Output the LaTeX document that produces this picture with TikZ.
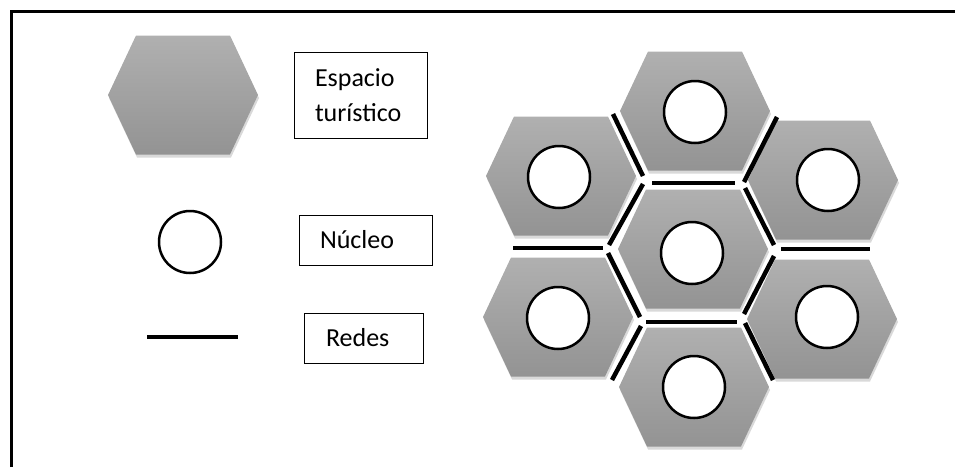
\documentclass[tikz,border=0pt]{standalone}
\usepackage{fontspec}
\setmainfont{Carlito}
\usetikzlibrary{shadows}

\definecolor{hextop}{HTML}{B0B0B0}
\definecolor{hexbot}{HTML}{939393}

\tikzset{
  espacio/.style={top color=hextop, bottom color=hexbot,
    drop shadow={opacity=0.3, shadow xshift=1pt, shadow yshift=-3pt}},
  nucleo/.style={circle, draw=black, fill=white, line width=2.5pt, minimum size=62pt, inner sep=0pt},
  red/.style={draw=black, line width=4.5pt},
  leyenda/.style={draw=black, line width=1pt, align=left, inner ysep=0pt,
    font=\fontsize{26}{35}\selectfont}
}

\begin{document}
\begin{tikzpicture}[x=1pt,y=-1pt]
                \useasboundingbox (0,0) rectangle (955,467);
                % marco
                \draw[line width=3pt] (11,467) -- (11,11) -- (955,11);

                % espacios turisticos
                \foreach \cx/\cy in {183/95, 695/111, 561/176, 823/180, 693/249, 558/317, 822/319, 694/387}
                  \shade[espacio] (\cx-47,\cy-59.5) -- (\cx+47,\cy-59.5) -- (\cx+75,\cy) -- (\cx+47,\cy+59.5) -- (\cx-47,\cy+59.5) -- (\cx-75,\cy) -- cycle;

                % nucleos
                \node [nucleo] (NL) at (190,242) {};
                \node [nucleo] (NA) at (695,112) {};
                \node [nucleo] (NAI) at (559,177) {};
                \node [nucleo] (NAD) at (828,180) {};
                \node [nucleo] (NC) at (692,253) {};
                \node [nucleo] (NBI) at (558,318) {};
                \node [nucleo] (NBD) at (827,317) {};
                \node [nucleo] (NB) at (694,387) {};

                % redes
                \draw[red] (147,337) -- (238,337);
                \draw[red] (613,114) -- (643,176);
                \draw[red] (777,117) -- (744,182);
                \draw[red] (652,183) -- (735,183);
                \draw[red] (643,184) -- (609,245);
                \draw[red] (745,188) -- (774,245);
                \draw[red] (513,248) -- (603,248);
                \draw[red] (781,249) -- (870,249);
                \draw[red] (608,253) -- (640,317);
                \draw[red] (774,256) -- (744,314);
                \draw[red] (646,322) -- (737,322);
                \draw[red] (641,326) -- (612,380);
                \draw[red] (745,323) -- (773,380);

                % leyenda
                \node [leyenda, text width=91pt, inner xsep=21pt, minimum height=86pt] (TE) at (360.5,95) {Espacio\\turístico};
                \node [leyenda, text width=91pt, inner xsep=21pt, minimum height=50pt] (TN) at (365.5,240) {Núcleo};
                \node [leyenda, text width=75pt, inner xsep=22pt, minimum height=50pt] (TR) at (363.5,338) {Redes};
\end{tikzpicture}
\end{document}
